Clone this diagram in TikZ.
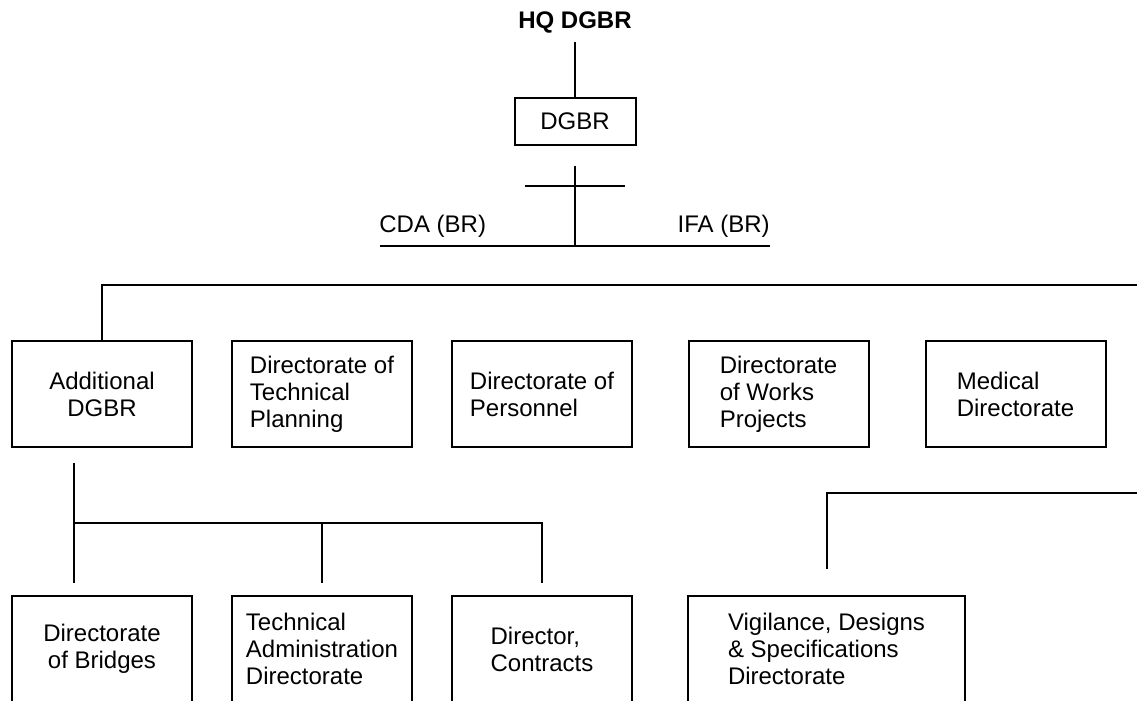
\documentclass[tikz,border=0pt]{standalone}
\usepackage{fontspec}
\setmainfont{Liberation Sans}
\usepackage{tikz}

\begin{document}
\begin{tikzpicture}[x=0.5pt,y=-0.5pt,
			unit/.style={draw, line width=1pt, minimum width=90pt, minimum height=53pt, inner sep=0pt, align=left, font=\fontsize{12}{13.5}\selectfont},
			wunit/.style={unit, minimum width=138.5pt},
			head/.style={draw, line width=1pt, minimum width=60.5pt, minimum height=23.5pt, inner sep=0pt, font=\fontsize{12}{13.5}\selectfont},
			lbl/.style={inner sep=0pt, font=\fontsize{12}{13.5}\selectfont},
			link/.style={line width=1pt}]

			\useasboundingbox (0,0) rectangle (1137,701);

			% drawing top
			\node[lbl, font=\fontsize{12}{13.5}\selectfont\bfseries] (hq) at (575,22) {HQ DGBR};
			\node[head] (dgbr) at (575,121.5) {DGBR};
			\node[lbl, anchor=base west] (cda) at (379,233) {CDA (BR)};
			\node[lbl, anchor=base east] (ifa) at (770,233) {IFA (BR)};

			% drawing first row
			\node[unit, align=center] (add) at (102,394) {Additional\\DGBR};
			\node[unit] (tplan) at (322,394) {Directorate of\\Technical\\Planning};
			\node[unit] (pers) at (542,394) {Directorate of\\Personnel};
			\node[unit] (works) at (778.5,394) {Directorate\\of Works\\Projects};
			\node[unit] (med) at (1015.5,394) {Medical\\Directorate};

			% drawing second row
			\node[unit, align=center] (brid) at (102,649) {Directorate\\of Bridges};
			\node[unit] (tadm) at (322,649) {Technical\\Administration\\Directorate};
			\node[unit] (contr) at (542,649) {Director,\\Contracts};
			\node[wunit] (vig) at (826.5,649) {Vigilance, Designs\\\& Specifications\\Directorate};

			% helper points
			\coordinate (crossL) at (525,186);
			\coordinate (crossR) at (625,186);
			\coordinate (finL) at (380,246);
			\coordinate (finR) at (770,246);
			\coordinate (mainbus) at (1137,285);
			\coordinate (addleg) at (74,463);
			\coordinate (subbus) at (74,523);
			\coordinate (vigbus) at (1137,493);

			% drawing lines
			\draw[link] (hq) ++(0,20) -- (dgbr.north);
			\draw[link] ([yshift=-10pt]dgbr.south) -- (dgbr.south |- finL);
			\draw[link] (crossL) -- (crossR);
			\draw[link] (finL) -- (finR);

			\draw[link] (add.north) |- (mainbus);

			\draw[link] (addleg) -- ([yshift=6pt]brid.north -| addleg);
			\draw[link] (subbus) -| ([yshift=6pt]contr.north);
			\draw[link] (tadm.north |- subbus) -- ([yshift=6pt]tadm.north);

			\draw[link] ([yshift=13pt]vig.north) |- (vigbus);

		\end{tikzpicture}
\end{document}
